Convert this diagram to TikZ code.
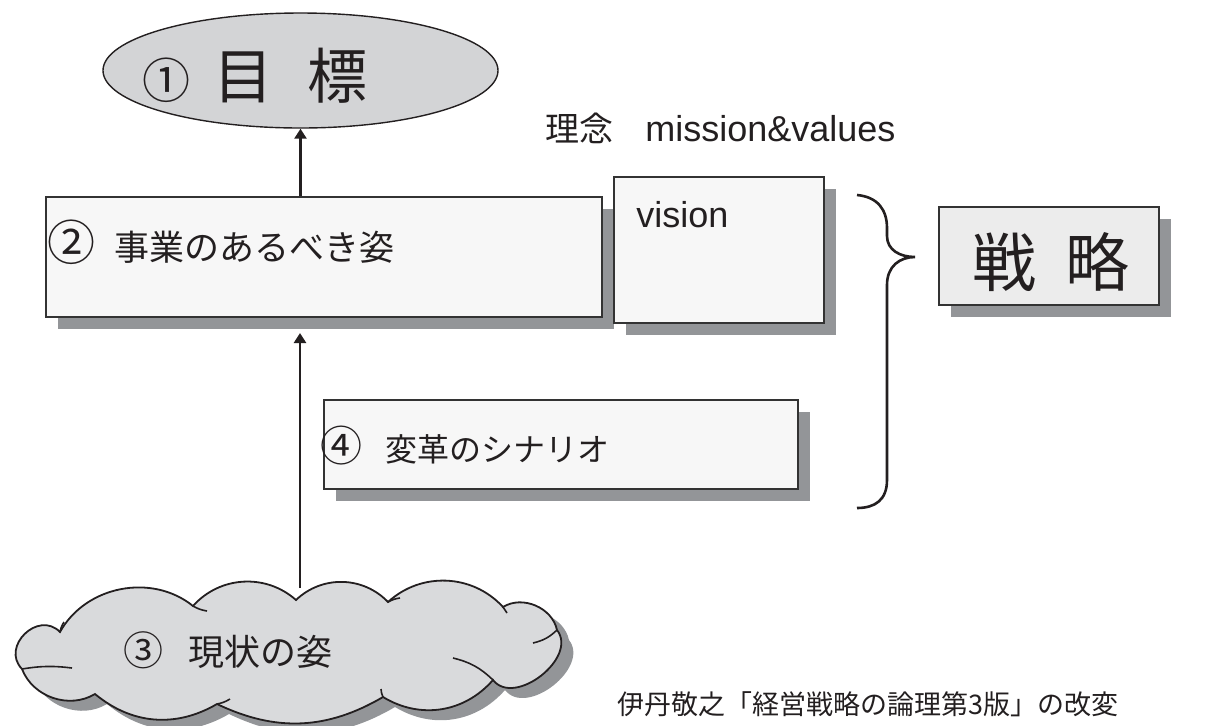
\documentclass[tikz,border=0pt]{standalone}
\usepackage{fontspec}
\setmainfont{Liberation Sans}
\newfontfamily\jp{Noto Sans CJK JP}
\usetikzlibrary{shapes.geometric,arrows.meta,shadows}
\definecolor{shadowgray}{HTML}{939598}
\definecolor{linegray}{HTML}{333333}
\definecolor{ellfill}{HTML}{D3D4D6}
\definecolor{boxfill}{HTML}{F7F7F7}
\definecolor{stratfill}{HTML}{ECECEC}
\definecolor{cloudfill}{HTML}{D9DADC}
\definecolor{txt}{HTML}{231F20}
\begin{document}
\begin{tikzpicture}[x=0.5pt,y=-0.5pt,
  sh/.style={drop shadow={shadow xshift=6pt,shadow yshift=-6pt,fill=shadowgray,opacity=1}},
  panel/.style={draw=linegray,line width=1pt,fill=boxfill,rectangle,inner sep=0pt,anchor=north west,sh},
  lbl/.style={inner sep=0pt,text=txt},
  arr/.style={line width=1.3pt,draw=txt,-{Triangle[length=5pt,width=6pt]}},
  crease/.style={draw=txt,line width=0.8pt},
]
\useasboundingbox (0,0) rectangle (1228,725);

% goal ellipse
\node[ellipse,draw=txt,line width=0.7pt,fill=ellfill,inner sep=0pt,
      minimum width=197.5pt,minimum height=57.5pt] (goal) at (300.5,70.5) {};
\node[lbl,anchor=base west] (goaltext) at (142,98)
  {\jp{\fontsize{24}{28}\selectfont ①}\hspace{11.5pt}{\fontsize{30}{36}\selectfont 目\hspace{17pt}標}};

% mission text
\node[lbl,anchor=base west] (mission) at (545,141)
  {{\jp\fontsize{17}{20}\selectfont 理念}\hspace{16pt}{\fontsize{18}{22}\selectfont mission\&values}};

% box 1 and vision
\node[panel,minimum width=278pt,minimum height=60pt] (box1) at (45,196) {};
\node[lbl,anchor=base west] (box1text) at (47,260)
  {\jp{\fontsize{24}{28}\selectfont ②}\hspace{9.5pt}{\fontsize{17.5}{21}\selectfont 事業のあるべき姿}};
\node[panel,minimum width=105pt,minimum height=73pt] (vision) at (613,176) {};
\node[lbl,anchor=base west] (visiontext) at (636,227)
  {\fontsize{18}{22}\selectfont vision};

% strategy box
\node[panel,fill=stratfill,minimum width=110pt,minimum height=49pt] (strat) at (938,206) {};
\node[lbl,anchor=west] (strattext) at (972,262)
  {\jp\fontsize{32}{38}\selectfont 戦\hspace{14.5pt}略};

% box 4
\node[panel,minimum width=237pt,minimum height=44.5pt] (box4) at (323,399) {};
\node[lbl,anchor=base west] (box4text) at (320,461)
  {\jp{\fontsize{21}{25}\selectfont ④}\hspace{11.5pt}{\fontsize{16}{19}\selectfont 変革のシナリオ}};

% brace
\draw[line width=1.3pt,txt] (857,195) .. controls (878,197) and (887,210) .. (887,228)
  -- (887,236) .. controls (887,250) and (900,257) .. (915,257)
  .. controls (900,257) and (887,266) .. (887,285)
  -- (887,480) .. controls (887,500) and (875,508) .. (857,508);

% cloud
\path[draw=txt,line width=0.9pt,fill=cloudfill,
  drop shadow={shadow xshift=6pt,shadow yshift=-5pt,fill=shadowgray,opacity=1}]
  (60,632) to[bend left=50] (193,606) to[bend left=45] (296,600)
  to[bend left=45] (388,602) to[bend left=45] (503,607)
  to[bend left=55] (557,630) to[bend left=90,looseness=1.1] (493,680)
  to[bend left=40] (383,697) to[bend left=28] (217,704)
  to[bend left=35] (95,694) to[bend left=50] (22,669)
  to[bend left=90,looseness=1.5] (60,632) -- cycle;
\draw[crease] (22,669) to[bend left=8] (72,668);
\draw[crease] (60,632) to[bend left=10] (64,622);
\draw[crease] (193,606) to[bend right=10] (207,611);
\draw[crease] (388,602) to[bend left=10] (400,598);
\draw[crease] (503,607) to[bend right=10] (507,613);
\draw[crease] (557,630) to[bend left=15] (533,643);
\draw[crease] (493,680) to[bend right=15] (453,658);
\draw[crease] (383,697) to[bend left=10] (381,689);
\draw[crease] (217,704) to[bend right=10] (230,699);
\node[lbl,anchor=base west] (nowtext) at (123,665)
  {\jp{\fontsize{20}{24}\selectfont ③}\hspace{12.5pt}{\fontsize{18}{22}\selectfont 現状の姿}};
\coordinate (cloudtop) at (300,588);

% arrows
\draw[arr] (box1.north -| goal.south) -- (goal.south);
\draw[arr,shorten >=7.5pt] (cloudtop) -- (box1.south -| cloudtop);

% caption
\node[lbl,anchor=west] (caption) at (617,704)
  {\jp\fontsize{13.5}{16}\selectfont 伊丹敬之「経営戦略の論理第3版」の改変};
\end{tikzpicture}
\end{document}
